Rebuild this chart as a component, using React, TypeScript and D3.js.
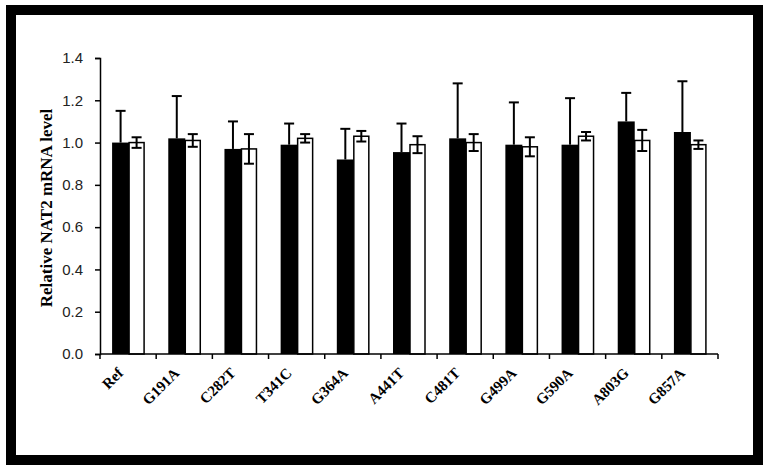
import React, { useEffect, useRef } from 'react';
import * as d3 from 'd3';

const categories = ['Ref', 'G191A', 'C282T', 'T341C', 'G364A', 'A441T', 'C481T', 'G499A', 'G590A', 'A803G', 'G857A'];
const blackValues = [1.0, 1.02, 0.97, 0.99, 0.92, 0.955, 1.02, 0.99, 0.99, 1.10, 1.05];
const blackErrors = [0.15, 0.2, 0.13, 0.1, 0.145, 0.135, 0.26, 0.2, 0.22, 0.135, 0.24];
const whiteValues = [1.0, 1.01, 0.97, 1.02, 1.03, 0.99, 1.0, 0.98, 1.03, 1.01, 0.99];
const whiteErrors = [0.025, 0.03, 0.07, 0.02, 0.025, 0.04, 0.04, 0.045, 0.02, 0.05, 0.02];
const yTicks = [0, 0.2, 0.4, 0.6, 0.8, 1.0, 1.2, 1.4];

function App() {
  const ref = useRef<SVGSVGElement>(null);

  useEffect(() => {
    const svg = d3.select(ref.current);
    svg.selectAll('*').remove();

    // outer frame
    svg.append('rect')
      .attr('x', 11).attr('y', 10)
      .attr('width', 747).attr('height', 450)
      .attr('fill', 'white')
      .attr('stroke', 'black')
      .attr('stroke-width', 10);

    const left = 100, right = 718, top = 58, bottom = 354;

    const x = d3.scaleBand().domain(categories).range([left, right]);
    const y = d3.scaleLinear().domain([0, 1.4]).range([bottom, top]);

    const g = svg.append('g');

    const bw = x.bandwidth();
    const blackW = 17, whiteW = 15;
    const groupW = blackW + whiteW;
    const bx = (c: string) => (x(c) as number) + (bw - groupW) / 2;

    // black bars + upward error bars
    categories.forEach((c, i) => {
      const x0 = bx(c);
      const v = blackValues[i], e = blackErrors[i];
      const cx = x0 + blackW / 2;
      g.append('line')
        .attr('x1', cx).attr('x2', cx)
        .attr('y1', y(v)).attr('y2', y(v + e))
        .attr('stroke', 'black').attr('stroke-width', 2);
      g.append('line')
        .attr('x1', cx - 5).attr('x2', cx + 5)
        .attr('y1', y(v + e)).attr('y2', y(v + e))
        .attr('stroke', 'black').attr('stroke-width', 2);
      g.append('rect')
        .attr('x', x0).attr('y', y(v))
        .attr('width', blackW).attr('height', y(0) - y(v))
        .attr('fill', 'black');
    });

    // white bars + error bars
    categories.forEach((c, i) => {
      const x0 = bx(c) + blackW;
      const v = whiteValues[i], e = whiteErrors[i];
      const cx = x0 + whiteW / 2;
      g.append('rect')
        .attr('x', x0).attr('y', y(v))
        .attr('width', whiteW).attr('height', y(0) - y(v))
        .attr('fill', 'white')
        .attr('stroke', 'black').attr('stroke-width', 1.5);
      g.append('line')
        .attr('x1', cx).attr('x2', cx)
        .attr('y1', y(v - e)).attr('y2', y(v + e))
        .attr('stroke', 'black').attr('stroke-width', 2);
      [v - e, v + e].forEach(t => {
        g.append('line')
          .attr('x1', cx - 5).attr('x2', cx + 5)
          .attr('y1', y(t)).attr('y2', y(t))
          .attr('stroke', 'black').attr('stroke-width', 2);
      });
    });

    // y axis
    const yAxis = svg.append('g')
      .attr('transform', `translate(${left},0)`)
      .call(d3.axisLeft(y).tickValues(yTicks).tickFormat(d3.format('.1f')).tickSize(5).tickPadding(12));
    yAxis.select('.domain').attr('stroke-width', 1.5);
    yAxis.selectAll('.tick line').attr('stroke-width', 1.5);
    yAxis.selectAll('text')
      .attr('font-family', 'Liberation Sans, Arial, sans-serif')
      .attr('font-size', 15)
      .attr('fill', '#222');

    // x axis
    const bounds = d3.range(categories.length + 1).map(i => left + i * bw);
    const xAxis = svg.append('g');
    xAxis.append('line')
      .attr('x1', left).attr('x2', right)
      .attr('y1', bottom).attr('y2', bottom)
      .attr('stroke', 'black').attr('stroke-width', 1.5);
    bounds.forEach(b => {
      xAxis.append('line')
        .attr('x1', b).attr('x2', b)
        .attr('y1', bottom).attr('y2', bottom + 5)
        .attr('stroke', 'black').attr('stroke-width', 1.5);
    });
    categories.forEach(c => {
      const cx = (x(c) as number) + bw / 2 - 4;
      xAxis.append('text')
        .attr('transform', `translate(${cx},${bottom + 20}) rotate(-45)`)
        .attr('text-anchor', 'end')
        .attr('font-family', 'Liberation Serif, Times New Roman, serif')
        .attr('font-weight', 'bold')
        .attr('font-size', 15)
        .text(c);
    });

    // y title
    svg.append('text')
      .attr('transform', `translate(52,208) rotate(-90)`)
      .attr('text-anchor', 'middle')
      .attr('font-family', 'Liberation Serif, Times New Roman, serif')
      .attr('font-weight', 'bold')
      .attr('font-size', 17)
      .text('Relative NAT2 mRNA level');
  }, []);

  return (
    <svg ref={ref} width={769} height={470} style={{ position: 'absolute', left: 0, top: 0, background: 'white' }} />
  );
}

export default App;
